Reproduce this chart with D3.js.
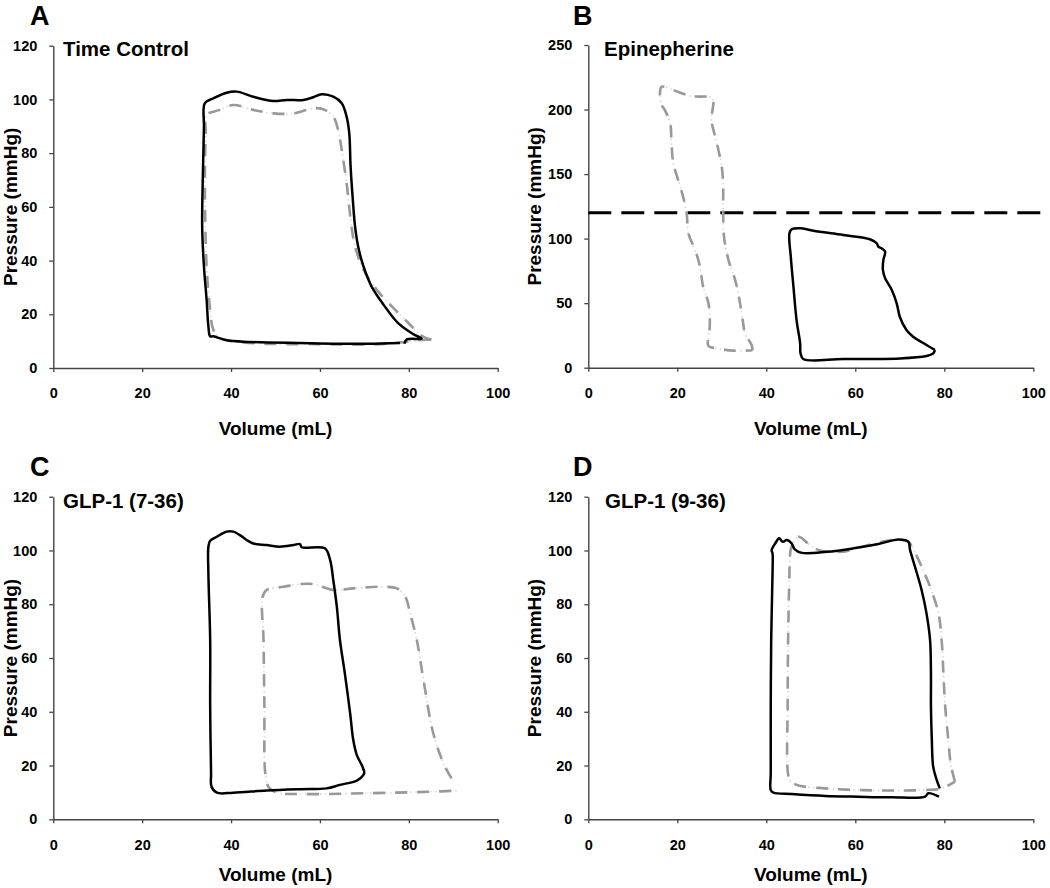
<!DOCTYPE html>
<html>
<head>
<meta charset="utf-8">
<script src="https://cdn.jsdelivr.net/npm/d3@7"></script>
<style>
  html, body { margin: 0; padding: 0; background: #fff; }
  svg { display: block; }
  text { font-family: "Liberation Sans", Arial, sans-serif; font-weight: bold; fill: #000; }
</style>
</head>
<body>
<svg id="chart" width="1050" height="888"></svg>
<script>
// ---------------- DATA (volume mL, pressure mmHg) ----------------
const panelLetters = ["A", "B", "C", "D"];
const panelTitles = ["Time Control", "Epinepherine", "GLP-1 (7-36)", "GLP-1 (9-36)"];
const xTicks = [0, 20, 40, 60, 80, 100];
const yTicksLow = [0, 20, 40, 60, 80, 100, 120];
const yTicksHigh = [0, 50, 100, 150, 200, 250];
const yMaxes = [120, 250, 120, 120];
const epiReferencePressure = 120;
const xAxisTitle = "Volume (mL)";
const yAxisTitle = "Pressure (mmHg)";

// Panel A – Time Control
const tcBaseline = [[79.0,9.0],[79.5,10.6],[82.9,10.9],[81.0,12.6],[77.6,16.7],[74.3,23.6],[71.6,30.4],[69.8,37.8],[68.6,45.2],[67.9,52.7],[67.4,62.6],[66.9,75.0],[66.6,87.4],[66.0,93.6],[64.9,98.6],[63.0,101.0],[60.4,101.9],[58.5,100.8],[56.3,99.8],[52.5,99.8],[49.5,99.4],[45.0,101.0],[41.3,102.9],[39.0,102.5],[36.0,100.4],[34.1,98.6],[33.9,89.9],[33.7,75.0],[33.5,52.7],[33.9,37.8],[34.5,25.4],[34.9,15.5],[35.3,11.8],[36.0,11.8],[39.0,10.3],[44.3,9.7],[55.5,9.3],[70.5,9.0],[78.0,9.3]];
const tcTreatment = [[85.1,10.5],[82.9,12.0],[80.3,16.1],[76.9,21.7],[72.8,29.1],[69.8,36.6],[67.9,45.2],[67.1,52.7],[66.0,68.8],[64.9,81.2],[64.1,88.6],[63.0,93.6],[60.8,96.3],[58.5,96.7],[54.0,94.8],[49.5,94.8],[45.0,96.1],[40.5,97.9],[37.5,96.1],[34.5,94.2],[34.3,87.4],[34.1,68.8],[34.5,37.8],[35.3,21.7],[36.0,14.3],[37.5,11.2],[40.5,9.9],[48.0,9.0],[59.3,8.9],[70.5,8.7],[78.0,9.5],[82.5,10.4],[85.1,10.5]];

// Panel B – Epinephrine
const epiBaseline = [[77.9,13.7],[76.0,17.6],[73.0,24.0],[71.5,29.2],[70.0,39.5],[69.3,49.9],[68.2,60.2],[66.7,69.3],[66.2,75.7],[66.3,83.4],[66.7,89.9],[65.9,92.5],[65.2,93.7],[64.8,96.4],[63.3,99.5],[57.3,102.8],[50.6,106.1],[47.6,108.0],[45.7,107.2],[45.2,104.1],[45.5,86.0],[46.1,62.8],[46.8,36.9],[47.6,18.9],[47.7,11.1],[48.3,6.7],[57.3,6.7],[70.0,7.2],[76.0,9.1],[77.5,11.1],[77.9,13.7]];
const epiTreatment = [[36.9,13.5],[36.7,17.6],[35.2,26.6],[34.8,34.4],[34.1,49.9],[33.0,67.9],[31.5,83.4],[30.5,101.5],[30.3,122.2],[30.3,140.2],[30.0,155.7],[28.9,173.8],[27.7,191.9],[28.1,206.1],[27.7,209.5],[25.1,210.0],[22.9,210.5],[19.1,215.1],[16.5,217.7],[16.1,212.6],[16.5,203.5],[17.2,199.6],[18.4,189.3],[18.7,173.8],[19.1,158.3],[20.2,145.4],[21.3,132.5],[22.1,119.6],[22.5,104.1],[24.0,91.2],[25.1,78.3],[25.8,62.8],[27.0,49.9],[27.3,31.8],[27.0,24.0],[27.0,16.8],[28.9,15.0],[32.6,13.2],[36.9,13.5]];

// Panel C – GLP-1 (7-36)
const glp736Baseline = [[70.0,17.7],[69.4,20.2],[68.3,23.9],[67.5,29.5],[66.8,39.4],[65.6,54.3],[64.5,66.7],[63.8,79.1],[63.0,89.0],[62.3,96.4],[61.1,100.8],[55.9,101.2],[55.5,102.4],[54.0,102.0],[51.0,101.4],[48.0,102.0],[45.0,102.6],[43.5,103.9],[42.0,105.7],[40.5,107.0],[39.0,107.0],[36.8,105.1],[35.3,103.6],[34.9,101.4],[34.9,91.5],[35.3,66.7],[35.3,41.9],[35.5,17.1],[35.6,12.1],[36.8,9.9],[40.5,9.9],[48.0,10.7],[55.5,11.2],[61.5,11.5],[64.5,12.8],[68.3,14.4],[69.8,16.5],[70.0,17.7]];
const glp736Treatment = [[89.6,15.2],[87.8,20.8],[85.5,32.0],[83.3,51.8],[81.8,66.7],[80.3,76.6],[79.2,82.8],[77.3,85.9],[74.3,86.5],[67.5,85.9],[63.0,85.3],[58.5,87.5],[55.5,87.5],[51.8,86.5],[48.0,85.3],[47.1,82.8],[47.3,66.7],[47.5,41.9],[47.7,17.1],[48.4,12.1],[50.3,9.9],[55.5,9.4],[70.5,9.7],[85.5,10.3],[91.0,10.7]];

// Panel D – GLP-1 (9-36)
const glp936Baseline = [[79.0,11.5],[78.3,14.6],[77.5,19.6],[77.2,29.5],[77.0,41.9],[77.0,54.3],[76.8,66.7],[76.0,76.6],[74.9,85.3],[73.4,94.0],[72.3,100.2],[71.9,103.3],[69.7,104.1],[65.2,102.4],[59.6,100.8],[53.6,99.5],[48.0,99.1],[46.4,100.4],[45.7,102.6],[44.6,103.9],[43.7,103.2],[42.9,104.5],[42.0,102.6],[41.2,100.1],[41.4,98.9],[41.4,91.5],[41.1,66.7],[41.0,41.9],[41.0,17.1],[41.0,10.9],[41.6,9.9],[45.7,9.4],[53.2,8.7],[60.7,8.4],[68.2,8.2],[75.7,8.4],[76.4,9.7],[78.8,8.4]];
const glp936Treatment = [[82.4,14.0],[81.5,20.0],[80.9,29.5],[80.2,41.9],[79.8,54.3],[79.4,66.7],[78.7,76.6],[76.8,86.5],[74.9,94.0],[72.7,101.4],[71.9,103.3],[68.2,103.9],[62.2,101.7],[57.0,99.5],[51.7,100.2],[49.8,102.0],[47.2,105.1],[45.6,101.0],[45.3,97.7],[45.2,91.5],[44.9,66.7],[44.8,41.9],[44.8,18.3],[45.3,14.6],[46.8,12.8],[53.2,11.5],[60.7,10.9],[68.2,10.7],[75.7,10.9],[79.4,11.5],[82.4,14.0]];

const baselines = [tcBaseline, epiBaseline, glp736Baseline, glp936Baseline];
const treatments = [tcTreatment, epiTreatment, glp736Treatment, glp936Treatment];

// ---------------- LAYOUT ----------------
const frames = [
  {left: 53.3,  right: 497.7,  top: 45.7,  bottom: 368,   letterX: 30,  letterY: 25,  titleX: 63,  titleY: 56,  yTitleX: 17,  xTitleY: 435},
  {left: 588.3, right: 1033.3, top: 45,    bottom: 367.7, letterX: 573, letterY: 25,  titleX: 604, titleY: 56,  yTitleX: 541, xTitleY: 435},
  {left: 53.3,  right: 497.7,  top: 496.7, bottom: 819.3, letterX: 30,  letterY: 476, titleX: 63,  titleY: 508, yTitleX: 17,  xTitleY: 881},
  {left: 588.3, right: 1033.3, top: 496.7, bottom: 819.3, letterX: 573, letterY: 476, titleX: 605, titleY: 508, yTitleX: 541, xTitleY: 881}
];

const svg = d3.select("#chart");
svg.append("rect").attr("width", 1050).attr("height", 888).attr("fill", "#fff");

const axisColor = "#444";

frames.forEach((f, i) => {
  const x = d3.scaleLinear().domain([0, 100]).range([f.left, f.right]);
  const y = d3.scaleLinear().domain([0, yMaxes[i]]).range([f.bottom, f.top]);
  const g = svg.append("g");

  // axes
  const yAx = g.append("g").attr("transform", `translate(${f.left},0)`)
    .call(d3.axisLeft(y).tickValues(i === 1 ? yTicksHigh : yTicksLow).tickSize(4).tickSizeOuter(0).tickPadding(12));
  const xAx = g.append("g").attr("transform", `translate(0,${f.bottom})`)
    .call(d3.axisBottom(x).tickValues(xTicks).tickSize(4).tickSizeOuter(0).tickPadding(16));
  [yAx, xAx].forEach(a => {
    a.select(".domain").attr("stroke", axisColor).attr("stroke-width", 1.4);
    a.selectAll(".tick line").attr("stroke", axisColor).attr("stroke-width", 1.3);
    a.selectAll(".tick text").attr("fill", "#000")
      .style("font-size", "14.5px").style("font-weight", "bold")
      .style("font-family", '"Liberation Sans", Arial, sans-serif');
  });

  // axis titles
  g.append("text").attr("x", (f.left + f.right) / 2).attr("y", f.xTitleY)
    .attr("text-anchor", "middle").style("font-size", "19px").text(xAxisTitle);
  g.append("text")
    .attr("transform", `translate(${f.yTitleX},${(f.top + f.bottom) / 2}) rotate(-90)`)
    .attr("text-anchor", "middle").style("font-size", "19px").text(yAxisTitle);

  // letter and title
  g.append("text").attr("x", f.letterX).attr("y", f.letterY)
    .style("font-size", "27px").text(panelLetters[i]);
  g.append("text").attr("x", f.titleX).attr("y", f.titleY)
    .style("font-size", "20.5px").text(panelTitles[i]);

  const line = d3.line().x(d => x(d[0])).y(d => y(d[1])).curve(d3.curveCatmullRom.alpha(0.5));

  // reference line (Epinephrine panel)
  if (i === 1) {
    g.append("line")
      .attr("x1", x(0)).attr("x2", x(103.5))
      .attr("y1", y(epiReferencePressure)).attr("y2", y(epiReferencePressure))
      .attr("stroke", "#000").attr("stroke-width", 3).attr("stroke-dasharray", "23,10");
  }

  // treatment loop: light dots + gray dashes (dash-dot-dot look)
  g.append("path").datum(treatments[i]).attr("d", line)
    .attr("fill", "none").attr("stroke", "#d6d6d6").attr("stroke-width", 1.6)
    .attr("stroke-dasharray", "1.5,3.5");
  g.append("path").datum(treatments[i]).attr("d", line)
    .attr("fill", "none").attr("stroke", "#999").attr("stroke-width", 2.6)
    .attr("stroke-dasharray", "12,10").attr("stroke-linecap", "butt");

  // baseline loop: solid black
  g.append("path").datum(baselines[i]).attr("d", line)
    .attr("fill", "none").attr("stroke", "#000").attr("stroke-width", 2.5)
    .attr("stroke-linejoin", "round");
});
</script>
</body>
</html>
